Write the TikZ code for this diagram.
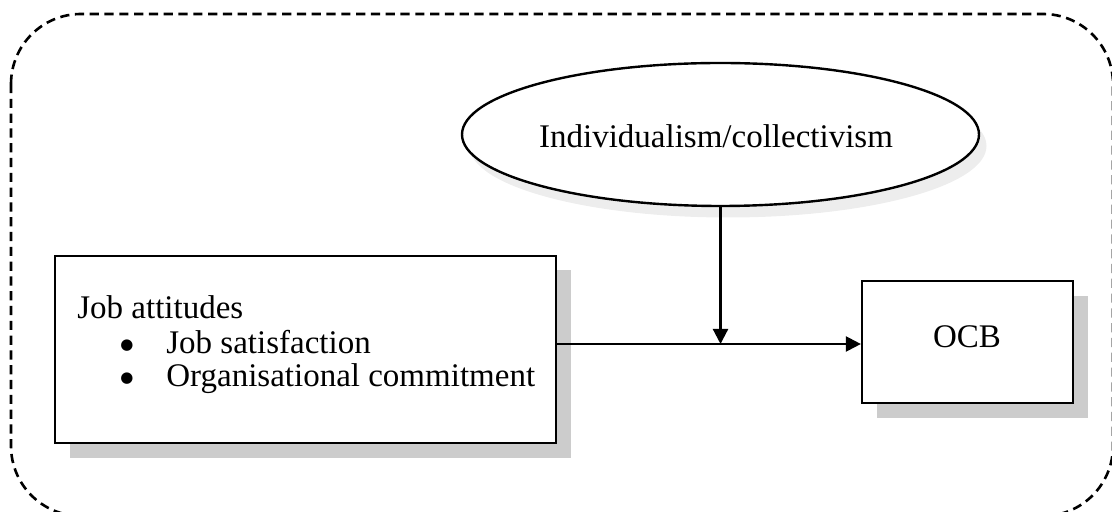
\documentclass[tikz,border=0pt]{standalone}
\usepackage{fontspec}
\setmainfont{Liberation Serif}
\newfontfamily\dotfont{DejaVu Sans}
\usetikzlibrary{arrows.meta,shapes.geometric}
\begin{document}
\begin{tikzpicture}[x=0.5pt,y=-0.5pt,
  box/.style={draw=black, line width=1.1pt, fill=white, rectangle, inner sep=0pt},
  shadebox/.style={fill=black!20, draw=none},
  link/.style={line width=1.1pt, -{Triangle[length=7.5pt,width=7.5pt]}},
  lbl/.style={font=\fontsize{16.5}{19}\selectfont, inner sep=0pt},
  bullet/.style={font=\dotfont\fontsize{7.5}{9}\selectfont, inner sep=0pt}]
\useasboundingbox (0,0) rectangle (1112,512);
% outer dashed frame
\draw[line width=1.3pt, dash pattern=on 4.6pt off 2.8pt, rounded corners=35pt]
  (11,14) rectangle (1113,516);
% shadows
\fill[shadebox] (70,270) rectangle (571,458);
\fill[shadebox] (877,296) rectangle (1088,418);
\fill[black!7] (728,146) ellipse [x radius=129.25pt, y radius=35.75pt];
% boxes
\node[box, minimum width=250.5pt, minimum height=93.5pt] (att) at (305.5,349.5) {};
\node[box, minimum width=105.5pt, minimum height=61pt] (ocb) at (967.5,342) {};
\node[draw, ellipse, line width=1.2pt, fill=white, inner sep=0pt,
      minimum width=258.5pt, minimum height=71.5pt] (ind) at (720.5,134.5) {};
% texts
\node[lbl, anchor=base west] (t0) at (77,319) {Job attitudes};
\node[bullet] (b1) at (127,346) {●};
\node[lbl, anchor=base west] (t1) at (166,354) {Job satisfaction};
\node[bullet] (b2) at (127,379) {●};
\node[lbl, anchor=base west] (t2) at (166,387) {Organisational commitment};
\node[lbl, anchor=base] (ocbt) at (967,348) {OCB};
\node[lbl, anchor=base] (indt) at (716,148) {Individualism/collectivism};
% connectors
\coordinate (m) at (720.5,344);
\draw[link] (att.east |- m) -- (ocb.west |- m);
\draw[link] (ind.south) -- (m);
\end{tikzpicture}
\end{document}
